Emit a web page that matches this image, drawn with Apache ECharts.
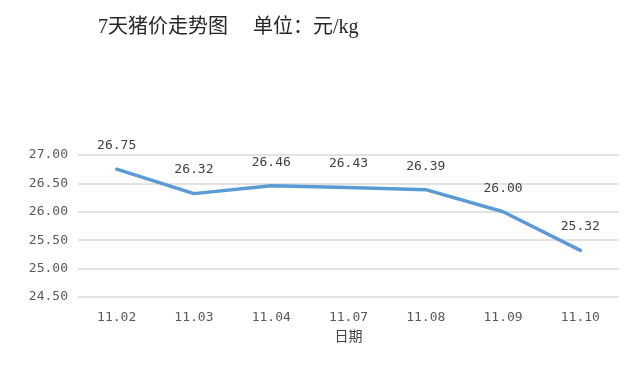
<!DOCTYPE html>
<html><head><meta charset="utf-8">
<script src="https://cdn.jsdelivr.net/npm/echarts@6/dist/echarts.min.js"></script>
<style>html,body{margin:0;padding:0;background:#fff}#c{width:639px;height:385px}</style>
</head><body><div id="c"></div>
<script>
var categories = ['11.02','11.03','11.04','11.07','11.08','11.09','11.10'];
var prices = [26.75, 26.32, 26.46, 26.43, 26.39, 26.00, 25.32];
var yTicks = {min: 24.5, max: 27, interval: 0.5};
var chart = echarts.init(document.getElementById('c'));
var numFont = '"DejaVu Sans Mono", "Liberation Mono", monospace';
chart.setOption({
  animation: false,
  title: {
    text: '7天猪价走势图     单位：元/kg',
    left: 93, top: 13,
    textStyle: {fontFamily: '"Liberation Serif", "Noto Sans CJK SC", serif', fontSize: 20, fontWeight: 'normal', color: '#262626'}
  },
  grid: {left: 78, right: 20, top: 155, bottom: 88},
  xAxis: {
    type: 'category', data: categories,
    name: '日期', nameLocation: 'middle', nameGap: 32,
    nameTextStyle: {fontFamily: '"Noto Sans CJK SC", sans-serif', fontSize: 14, color: '#404040'},
    axisLine: {show: false}, axisTick: {show: false},
    axisLabel: {fontFamily: numFont, fontSize: 13, color: '#595959', margin: 14}
  },
  yAxis: {
    type: 'value', min: yTicks.min, max: yTicks.max, interval: yTicks.interval,
    axisLine: {show: false}, axisTick: {show: false},
    axisLabel: {fontFamily: numFont, fontSize: 13, color: '#595959', margin: 10,
      formatter: function(v){return v.toFixed(2);}},
    splitLine: {lineStyle: {color: '#d9d9d9', width: 1.5}}
  },
  series: [{
    type: 'line', data: prices,
    symbol: 'circle', symbolSize: 0.01, showSymbol: true,
    itemStyle: {color: '#5b9bd5'},
    lineStyle: {color: '#5b9bd5', width: 3.5, cap: 'round', join: 'round'},
    label: {show: true, position: 'top', distance: 17, fontFamily: numFont, fontSize: 13, color: '#404040',
      formatter: function(p){return p.value.toFixed(2);}}
  }]
});
</script></body></html>
